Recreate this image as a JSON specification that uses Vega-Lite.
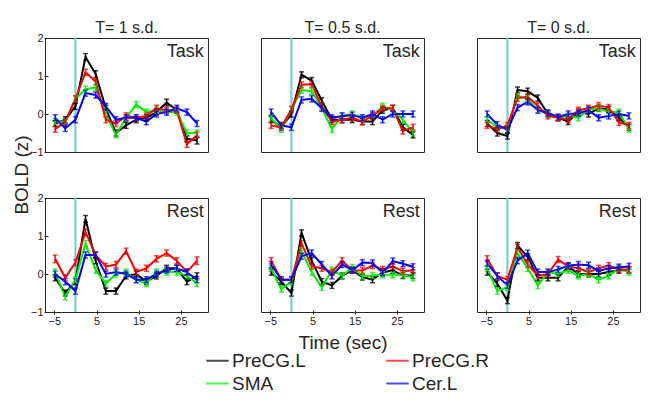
{
  "$schema": "https://vega.github.io/schema/vega-lite/v6.json",
  "background": "white",
  "padding": {"left": 12, "top": 20, "right": 5, "bottom": 5},
  "config": {
    "font": "Liberation Sans",
    "view": {"stroke": "#262626", "strokeWidth": 1},
    "axis": {"grid": false, "domain": false, "labelFontSize": 11, "labelColor": "#262626", "tickColor": "#262626", "tickSize": -4},
    "header": {"labelColor": "#262626", "titleColor": "#262626"}
  },
  "data": {
    "values": [
      {"T":1,"c":"Task","r":"PreCG.L","t":-4.8,"z":-0.25,"e":0.08},
      {"T":1,"c":"Task","r":"PreCG.L","t":-2.4,"z":-0.15,"e":0.08},
      {"T":1,"c":"Task","r":"PreCG.L","t":0,"z":0.2,"e":0.08},
      {"T":1,"c":"Task","r":"PreCG.L","t":2.4,"z":1.5,"e":0.09},
      {"T":1,"c":"Task","r":"PreCG.L","t":4.8,"z":1.05,"e":0.09},
      {"T":1,"c":"Task","r":"PreCG.L","t":7.2,"z":0.15,"e":0.08},
      {"T":1,"c":"Task","r":"PreCG.L","t":9.6,"z":-0.5,"e":0.08},
      {"T":1,"c":"Task","r":"PreCG.L","t":12,"z":-0.3,"e":0.08},
      {"T":1,"c":"Task","r":"PreCG.L","t":14.4,"z":-0.15,"e":0.08},
      {"T":1,"c":"Task","r":"PreCG.L","t":16.8,"z":-0.1,"e":0.08},
      {"T":1,"c":"Task","r":"PreCG.L","t":19.2,"z":0.05,"e":0.08},
      {"T":1,"c":"Task","r":"PreCG.L","t":21.6,"z":0.3,"e":0.09},
      {"T":1,"c":"Task","r":"PreCG.L","t":24,"z":0.1,"e":0.08},
      {"T":1,"c":"Task","r":"PreCG.L","t":26.4,"z":-0.65,"e":0.08},
      {"T":1,"c":"Task","r":"PreCG.L","t":28.8,"z":-0.7,"e":0.09},
      {"T":1,"c":"Task","r":"SMA","t":-4.8,"z":-0.2,"e":0.08},
      {"T":1,"c":"Task","r":"SMA","t":-2.4,"z":-0.2,"e":0.08},
      {"T":1,"c":"Task","r":"SMA","t":0,"z":0.4,"e":0.08},
      {"T":1,"c":"Task","r":"SMA","t":2.4,"z":0.65,"e":0.08},
      {"T":1,"c":"Task","r":"SMA","t":4.8,"z":0.7,"e":0.08},
      {"T":1,"c":"Task","r":"SMA","t":7.2,"z":0.0,"e":0.08},
      {"T":1,"c":"Task","r":"SMA","t":9.6,"z":-0.55,"e":0.08},
      {"T":1,"c":"Task","r":"SMA","t":12,"z":-0.1,"e":0.08},
      {"T":1,"c":"Task","r":"SMA","t":14.4,"z":0.25,"e":0.08},
      {"T":1,"c":"Task","r":"SMA","t":16.8,"z":0.05,"e":0.08},
      {"T":1,"c":"Task","r":"SMA","t":19.2,"z":0.1,"e":0.08},
      {"T":1,"c":"Task","r":"SMA","t":21.6,"z":0.05,"e":0.08},
      {"T":1,"c":"Task","r":"SMA","t":24,"z":0.05,"e":0.08},
      {"T":1,"c":"Task","r":"SMA","t":26.4,"z":-0.5,"e":0.08},
      {"T":1,"c":"Task","r":"SMA","t":28.8,"z":-0.5,"e":0.08},
      {"T":1,"c":"Task","r":"PreCG.R","t":-4.8,"z":-0.4,"e":0.08},
      {"T":1,"c":"Task","r":"PreCG.R","t":-2.4,"z":-0.2,"e":0.08},
      {"T":1,"c":"Task","r":"PreCG.R","t":0,"z":0.4,"e":0.08},
      {"T":1,"c":"Task","r":"PreCG.R","t":2.4,"z":1.1,"e":0.08},
      {"T":1,"c":"Task","r":"PreCG.R","t":4.8,"z":0.85,"e":0.08},
      {"T":1,"c":"Task","r":"PreCG.R","t":7.2,"z":-0.15,"e":0.08},
      {"T":1,"c":"Task","r":"PreCG.R","t":9.6,"z":-0.25,"e":0.08},
      {"T":1,"c":"Task","r":"PreCG.R","t":12,"z":-0.05,"e":0.08},
      {"T":1,"c":"Task","r":"PreCG.R","t":14.4,"z":-0.1,"e":0.08},
      {"T":1,"c":"Task","r":"PreCG.R","t":16.8,"z":-0.05,"e":0.08},
      {"T":1,"c":"Task","r":"PreCG.R","t":19.2,"z":0.15,"e":0.08},
      {"T":1,"c":"Task","r":"PreCG.R","t":21.6,"z":0.1,"e":0.08},
      {"T":1,"c":"Task","r":"PreCG.R","t":24,"z":0.1,"e":0.08},
      {"T":1,"c":"Task","r":"PreCG.R","t":26.4,"z":-0.8,"e":0.08},
      {"T":1,"c":"Task","r":"PreCG.R","t":28.8,"z":-0.55,"e":0.08},
      {"T":1,"c":"Task","r":"Cer.L","t":-4.8,"z":-0.1,"e":0.08},
      {"T":1,"c":"Task","r":"Cer.L","t":-2.4,"z":-0.38,"e":0.08},
      {"T":1,"c":"Task","r":"Cer.L","t":0,"z":-0.15,"e":0.08},
      {"T":1,"c":"Task","r":"Cer.L","t":2.4,"z":0.55,"e":0.08},
      {"T":1,"c":"Task","r":"Cer.L","t":4.8,"z":0.5,"e":0.08},
      {"T":1,"c":"Task","r":"Cer.L","t":7.2,"z":0.2,"e":0.08},
      {"T":1,"c":"Task","r":"Cer.L","t":9.6,"z":-0.15,"e":0.08},
      {"T":1,"c":"Task","r":"Cer.L","t":12,"z":-0.1,"e":0.08},
      {"T":1,"c":"Task","r":"Cer.L","t":14.4,"z":-0.1,"e":0.08},
      {"T":1,"c":"Task","r":"Cer.L","t":16.8,"z":-0.2,"e":0.08},
      {"T":1,"c":"Task","r":"Cer.L","t":19.2,"z":0.0,"e":0.08},
      {"T":1,"c":"Task","r":"Cer.L","t":21.6,"z":0.05,"e":0.08},
      {"T":1,"c":"Task","r":"Cer.L","t":24,"z":0.15,"e":0.08},
      {"T":1,"c":"Task","r":"Cer.L","t":26.4,"z":0.05,"e":0.08},
      {"T":1,"c":"Task","r":"Cer.L","t":28.8,"z":-0.25,"e":0.08},

      {"T":1,"c":"Rest","r":"PreCG.L","t":-4.8,"z":-0.1,"e":0.08},
      {"T":1,"c":"Rest","r":"PreCG.L","t":-2.4,"z":-0.5,"e":0.08},
      {"T":1,"c":"Rest","r":"PreCG.L","t":0,"z":-0.2,"e":0.08},
      {"T":1,"c":"Rest","r":"PreCG.L","t":2.4,"z":1.45,"e":0.09},
      {"T":1,"c":"Rest","r":"PreCG.L","t":4.8,"z":0.35,"e":0.08},
      {"T":1,"c":"Rest","r":"PreCG.L","t":7.2,"z":-0.45,"e":0.08},
      {"T":1,"c":"Rest","r":"PreCG.L","t":9.6,"z":-0.45,"e":0.08},
      {"T":1,"c":"Rest","r":"PreCG.L","t":12,"z":-0.05,"e":0.08},
      {"T":1,"c":"Rest","r":"PreCG.L","t":14.4,"z":0.0,"e":0.08},
      {"T":1,"c":"Rest","r":"PreCG.L","t":16.8,"z":-0.2,"e":0.08},
      {"T":1,"c":"Rest","r":"PreCG.L","t":19.2,"z":-0.05,"e":0.08},
      {"T":1,"c":"Rest","r":"PreCG.L","t":21.6,"z":0.15,"e":0.08},
      {"T":1,"c":"Rest","r":"PreCG.L","t":24,"z":0.15,"e":0.08},
      {"T":1,"c":"Rest","r":"PreCG.L","t":26.4,"z":-0.2,"e":0.08},
      {"T":1,"c":"Rest","r":"PreCG.L","t":28.8,"z":-0.05,"e":0.08},
      {"T":1,"c":"Rest","r":"SMA","t":-4.8,"z":0.05,"e":0.08},
      {"T":1,"c":"Rest","r":"SMA","t":-2.4,"z":-0.6,"e":0.08},
      {"T":1,"c":"Rest","r":"SMA","t":0,"z":-0.15,"e":0.08},
      {"T":1,"c":"Rest","r":"SMA","t":2.4,"z":0.8,"e":0.08},
      {"T":1,"c":"Rest","r":"SMA","t":4.8,"z":0.1,"e":0.08},
      {"T":1,"c":"Rest","r":"SMA","t":7.2,"z":-0.25,"e":0.08},
      {"T":1,"c":"Rest","r":"SMA","t":9.6,"z":0.0,"e":0.08},
      {"T":1,"c":"Rest","r":"SMA","t":12,"z":0.05,"e":0.08},
      {"T":1,"c":"Rest","r":"SMA","t":14.4,"z":-0.15,"e":0.08},
      {"T":1,"c":"Rest","r":"SMA","t":16.8,"z":-0.25,"e":0.08},
      {"T":1,"c":"Rest","r":"SMA","t":19.2,"z":0.05,"e":0.08},
      {"T":1,"c":"Rest","r":"SMA","t":21.6,"z":0.05,"e":0.08},
      {"T":1,"c":"Rest","r":"SMA","t":24,"z":0.05,"e":0.08},
      {"T":1,"c":"Rest","r":"SMA","t":26.4,"z":-0.05,"e":0.08},
      {"T":1,"c":"Rest","r":"SMA","t":28.8,"z":-0.25,"e":0.08},
      {"T":1,"c":"Rest","r":"PreCG.R","t":-4.8,"z":0.4,"e":0.1},
      {"T":1,"c":"Rest","r":"PreCG.R","t":-2.4,"z":-0.1,"e":0.08},
      {"T":1,"c":"Rest","r":"PreCG.R","t":0,"z":0.3,"e":0.08},
      {"T":1,"c":"Rest","r":"PreCG.R","t":2.4,"z":1.1,"e":0.09},
      {"T":1,"c":"Rest","r":"PreCG.R","t":4.8,"z":0.5,"e":0.08},
      {"T":1,"c":"Rest","r":"PreCG.R","t":7.2,"z":0.2,"e":0.08},
      {"T":1,"c":"Rest","r":"PreCG.R","t":9.6,"z":0.25,"e":0.08},
      {"T":1,"c":"Rest","r":"PreCG.R","t":12,"z":0.6,"e":0.08},
      {"T":1,"c":"Rest","r":"PreCG.R","t":14.4,"z":0.05,"e":0.08},
      {"T":1,"c":"Rest","r":"PreCG.R","t":16.8,"z":0.15,"e":0.08},
      {"T":1,"c":"Rest","r":"PreCG.R","t":19.2,"z":0.4,"e":0.08},
      {"T":1,"c":"Rest","r":"PreCG.R","t":21.6,"z":0.55,"e":0.08},
      {"T":1,"c":"Rest","r":"PreCG.R","t":24,"z":0.35,"e":0.08},
      {"T":1,"c":"Rest","r":"PreCG.R","t":26.4,"z":0.05,"e":0.08},
      {"T":1,"c":"Rest","r":"PreCG.R","t":28.8,"z":0.35,"e":0.1},
      {"T":1,"c":"Rest","r":"Cer.L","t":-4.8,"z":0.0,"e":0.08},
      {"T":1,"c":"Rest","r":"Cer.L","t":-2.4,"z":-0.2,"e":0.08},
      {"T":1,"c":"Rest","r":"Cer.L","t":0,"z":-0.45,"e":0.08},
      {"T":1,"c":"Rest","r":"Cer.L","t":2.4,"z":0.5,"e":0.08},
      {"T":1,"c":"Rest","r":"Cer.L","t":4.8,"z":0.5,"e":0.08},
      {"T":1,"c":"Rest","r":"Cer.L","t":7.2,"z":0.0,"e":0.08},
      {"T":1,"c":"Rest","r":"Cer.L","t":9.6,"z":0.05,"e":0.08},
      {"T":1,"c":"Rest","r":"Cer.L","t":12,"z":0.0,"e":0.08},
      {"T":1,"c":"Rest","r":"Cer.L","t":14.4,"z":-0.15,"e":0.08},
      {"T":1,"c":"Rest","r":"Cer.L","t":16.8,"z":-0.15,"e":0.08},
      {"T":1,"c":"Rest","r":"Cer.L","t":19.2,"z":0.0,"e":0.08},
      {"T":1,"c":"Rest","r":"Cer.L","t":21.6,"z":0.1,"e":0.08},
      {"T":1,"c":"Rest","r":"Cer.L","t":24,"z":0.15,"e":0.08},
      {"T":1,"c":"Rest","r":"Cer.L","t":26.4,"z":0.05,"e":0.08},
      {"T":1,"c":"Rest","r":"Cer.L","t":28.8,"z":-0.15,"e":0.08},

      {"T":0.5,"c":"Task","r":"PreCG.L","t":-4.8,"z":-0.15,"e":0.08},
      {"T":0.5,"c":"Task","r":"PreCG.L","t":-2.4,"z":-0.35,"e":0.08},
      {"T":0.5,"c":"Task","r":"PreCG.L","t":0,"z":0.0,"e":0.08},
      {"T":0.5,"c":"Task","r":"PreCG.L","t":2.4,"z":1.03,"e":0.08},
      {"T":0.5,"c":"Task","r":"PreCG.L","t":4.8,"z":0.88,"e":0.08},
      {"T":0.5,"c":"Task","r":"PreCG.L","t":7.2,"z":0.35,"e":0.08},
      {"T":0.5,"c":"Task","r":"PreCG.L","t":9.6,"z":-0.15,"e":0.08},
      {"T":0.5,"c":"Task","r":"PreCG.L","t":12,"z":-0.15,"e":0.08},
      {"T":0.5,"c":"Task","r":"PreCG.L","t":14.4,"z":-0.15,"e":0.08},
      {"T":0.5,"c":"Task","r":"PreCG.L","t":16.8,"z":-0.2,"e":0.08},
      {"T":0.5,"c":"Task","r":"PreCG.L","t":19.2,"z":-0.2,"e":0.08},
      {"T":0.5,"c":"Task","r":"PreCG.L","t":21.6,"z":0.1,"e":0.08},
      {"T":0.5,"c":"Task","r":"PreCG.L","t":24,"z":0.15,"e":0.08},
      {"T":0.5,"c":"Task","r":"PreCG.L","t":26.4,"z":-0.35,"e":0.08},
      {"T":0.5,"c":"Task","r":"PreCG.L","t":28.8,"z":-0.55,"e":0.08},
      {"T":0.5,"c":"Task","r":"SMA","t":-4.8,"z":-0.1,"e":0.08},
      {"T":0.5,"c":"Task","r":"SMA","t":-2.4,"z":-0.4,"e":0.08},
      {"T":0.5,"c":"Task","r":"SMA","t":0,"z":0.12,"e":0.08},
      {"T":0.5,"c":"Task","r":"SMA","t":2.4,"z":0.63,"e":0.08},
      {"T":0.5,"c":"Task","r":"SMA","t":4.8,"z":0.6,"e":0.08},
      {"T":0.5,"c":"Task","r":"SMA","t":7.2,"z":0.15,"e":0.08},
      {"T":0.5,"c":"Task","r":"SMA","t":9.6,"z":-0.4,"e":0.08},
      {"T":0.5,"c":"Task","r":"SMA","t":12,"z":-0.05,"e":0.08},
      {"T":0.5,"c":"Task","r":"SMA","t":14.4,"z":0.0,"e":0.08},
      {"T":0.5,"c":"Task","r":"SMA","t":16.8,"z":-0.1,"e":0.08},
      {"T":0.5,"c":"Task","r":"SMA","t":19.2,"z":-0.05,"e":0.08},
      {"T":0.5,"c":"Task","r":"SMA","t":21.6,"z":0.2,"e":0.08},
      {"T":0.5,"c":"Task","r":"SMA","t":24,"z":0.1,"e":0.08},
      {"T":0.5,"c":"Task","r":"SMA","t":26.4,"z":-0.15,"e":0.08},
      {"T":0.5,"c":"Task","r":"SMA","t":28.8,"z":-0.5,"e":0.08},
      {"T":0.5,"c":"Task","r":"PreCG.R","t":-4.8,"z":-0.3,"e":0.08},
      {"T":0.5,"c":"Task","r":"PreCG.R","t":-2.4,"z":-0.35,"e":0.08},
      {"T":0.5,"c":"Task","r":"PreCG.R","t":0,"z":0.12,"e":0.08},
      {"T":0.5,"c":"Task","r":"PreCG.R","t":2.4,"z":0.77,"e":0.08},
      {"T":0.5,"c":"Task","r":"PreCG.R","t":4.8,"z":0.78,"e":0.08},
      {"T":0.5,"c":"Task","r":"PreCG.R","t":7.2,"z":0.2,"e":0.08},
      {"T":0.5,"c":"Task","r":"PreCG.R","t":9.6,"z":-0.2,"e":0.08},
      {"T":0.5,"c":"Task","r":"PreCG.R","t":12,"z":-0.15,"e":0.08},
      {"T":0.5,"c":"Task","r":"PreCG.R","t":14.4,"z":-0.1,"e":0.08},
      {"T":0.5,"c":"Task","r":"PreCG.R","t":16.8,"z":-0.2,"e":0.08},
      {"T":0.5,"c":"Task","r":"PreCG.R","t":19.2,"z":-0.05,"e":0.08},
      {"T":0.5,"c":"Task","r":"PreCG.R","t":21.6,"z":0.15,"e":0.08},
      {"T":0.5,"c":"Task","r":"PreCG.R","t":24,"z":0.15,"e":0.08},
      {"T":0.5,"c":"Task","r":"PreCG.R","t":26.4,"z":-0.45,"e":0.08},
      {"T":0.5,"c":"Task","r":"PreCG.R","t":28.8,"z":-0.35,"e":0.08},
      {"T":0.5,"c":"Task","r":"Cer.L","t":-4.8,"z":0.05,"e":0.08},
      {"T":0.5,"c":"Task","r":"Cer.L","t":-2.4,"z":-0.3,"e":0.08},
      {"T":0.5,"c":"Task","r":"Cer.L","t":0,"z":-0.35,"e":0.08},
      {"T":0.5,"c":"Task","r":"Cer.L","t":2.4,"z":0.37,"e":0.08},
      {"T":0.5,"c":"Task","r":"Cer.L","t":4.8,"z":0.4,"e":0.08},
      {"T":0.5,"c":"Task","r":"Cer.L","t":7.2,"z":0.15,"e":0.08},
      {"T":0.5,"c":"Task","r":"Cer.L","t":9.6,"z":-0.1,"e":0.08},
      {"T":0.5,"c":"Task","r":"Cer.L","t":12,"z":-0.05,"e":0.08},
      {"T":0.5,"c":"Task","r":"Cer.L","t":14.4,"z":-0.03,"e":0.08},
      {"T":0.5,"c":"Task","r":"Cer.L","t":16.8,"z":-0.1,"e":0.08},
      {"T":0.5,"c":"Task","r":"Cer.L","t":19.2,"z":0.0,"e":0.08},
      {"T":0.5,"c":"Task","r":"Cer.L","t":21.6,"z":-0.15,"e":0.08},
      {"T":0.5,"c":"Task","r":"Cer.L","t":24,"z":0.0,"e":0.08},
      {"T":0.5,"c":"Task","r":"Cer.L","t":26.4,"z":0.0,"e":0.08},
      {"T":0.5,"c":"Task","r":"Cer.L","t":28.8,"z":0.0,"e":0.08},

      {"T":0.5,"c":"Rest","r":"PreCG.L","t":-4.8,"z":0.05,"e":0.08},
      {"T":0.5,"c":"Rest","r":"PreCG.L","t":-2.4,"z":-0.2,"e":0.08},
      {"T":0.5,"c":"Rest","r":"PreCG.L","t":0,"z":-0.5,"e":0.08},
      {"T":0.5,"c":"Rest","r":"PreCG.L","t":2.4,"z":1.08,"e":0.08},
      {"T":0.5,"c":"Rest","r":"PreCG.L","t":4.8,"z":0.35,"e":0.08},
      {"T":0.5,"c":"Rest","r":"PreCG.L","t":7.2,"z":-0.2,"e":0.08},
      {"T":0.5,"c":"Rest","r":"PreCG.L","t":9.6,"z":-0.3,"e":0.08},
      {"T":0.5,"c":"Rest","r":"PreCG.L","t":12,"z":-0.05,"e":0.08},
      {"T":0.5,"c":"Rest","r":"PreCG.L","t":14.4,"z":0.1,"e":0.08},
      {"T":0.5,"c":"Rest","r":"PreCG.L","t":16.8,"z":-0.08,"e":0.08},
      {"T":0.5,"c":"Rest","r":"PreCG.L","t":19.2,"z":-0.15,"e":0.08},
      {"T":0.5,"c":"Rest","r":"PreCG.L","t":21.6,"z":0.04,"e":0.08},
      {"T":0.5,"c":"Rest","r":"PreCG.L","t":24,"z":0.1,"e":0.08},
      {"T":0.5,"c":"Rest","r":"PreCG.L","t":26.4,"z":-0.04,"e":0.08},
      {"T":0.5,"c":"Rest","r":"PreCG.L","t":28.8,"z":-0.04,"e":0.08},
      {"T":0.5,"c":"Rest","r":"SMA","t":-4.8,"z":0.15,"e":0.08},
      {"T":0.5,"c":"Rest","r":"SMA","t":-2.4,"z":-0.4,"e":0.08},
      {"T":0.5,"c":"Rest","r":"SMA","t":0,"z":-0.2,"e":0.08},
      {"T":0.5,"c":"Rest","r":"SMA","t":2.4,"z":0.6,"e":0.08},
      {"T":0.5,"c":"Rest","r":"SMA","t":4.8,"z":0.05,"e":0.08},
      {"T":0.5,"c":"Rest","r":"SMA","t":7.2,"z":-0.35,"e":0.08},
      {"T":0.5,"c":"Rest","r":"SMA","t":9.6,"z":0.1,"e":0.08},
      {"T":0.5,"c":"Rest","r":"SMA","t":12,"z":-0.05,"e":0.08},
      {"T":0.5,"c":"Rest","r":"SMA","t":14.4,"z":0.17,"e":0.08},
      {"T":0.5,"c":"Rest","r":"SMA","t":16.8,"z":-0.06,"e":0.08},
      {"T":0.5,"c":"Rest","r":"SMA","t":19.2,"z":-0.04,"e":0.08},
      {"T":0.5,"c":"Rest","r":"SMA","t":21.6,"z":-0.02,"e":0.08},
      {"T":0.5,"c":"Rest","r":"SMA","t":24,"z":-0.02,"e":0.08},
      {"T":0.5,"c":"Rest","r":"SMA","t":26.4,"z":-0.02,"e":0.08},
      {"T":0.5,"c":"Rest","r":"SMA","t":28.8,"z":-0.1,"e":0.08},
      {"T":0.5,"c":"Rest","r":"PreCG.R","t":-4.8,"z":0.35,"e":0.08},
      {"T":0.5,"c":"Rest","r":"PreCG.R","t":-2.4,"z":-0.15,"e":0.08},
      {"T":0.5,"c":"Rest","r":"PreCG.R","t":0,"z":-0.15,"e":0.08},
      {"T":0.5,"c":"Rest","r":"PreCG.R","t":2.4,"z":0.8,"e":0.08},
      {"T":0.5,"c":"Rest","r":"PreCG.R","t":4.8,"z":0.2,"e":0.08},
      {"T":0.5,"c":"Rest","r":"PreCG.R","t":7.2,"z":0.15,"e":0.08},
      {"T":0.5,"c":"Rest","r":"PreCG.R","t":9.6,"z":0.05,"e":0.08},
      {"T":0.5,"c":"Rest","r":"PreCG.R","t":12,"z":0.35,"e":0.08},
      {"T":0.5,"c":"Rest","r":"PreCG.R","t":14.4,"z":0.1,"e":0.08},
      {"T":0.5,"c":"Rest","r":"PreCG.R","t":16.8,"z":0.09,"e":0.08},
      {"T":0.5,"c":"Rest","r":"PreCG.R","t":19.2,"z":0.22,"e":0.08},
      {"T":0.5,"c":"Rest","r":"PreCG.R","t":21.6,"z":0.12,"e":0.08},
      {"T":0.5,"c":"Rest","r":"PreCG.R","t":24,"z":0.2,"e":0.08},
      {"T":0.5,"c":"Rest","r":"PreCG.R","t":26.4,"z":0.07,"e":0.08},
      {"T":0.5,"c":"Rest","r":"PreCG.R","t":28.8,"z":0.1,"e":0.08},
      {"T":0.5,"c":"Rest","r":"Cer.L","t":-4.8,"z":0.25,"e":0.08},
      {"T":0.5,"c":"Rest","r":"Cer.L","t":-2.4,"z":-0.15,"e":0.08},
      {"T":0.5,"c":"Rest","r":"Cer.L","t":0,"z":-0.15,"e":0.08},
      {"T":0.5,"c":"Rest","r":"Cer.L","t":2.4,"z":0.47,"e":0.08},
      {"T":0.5,"c":"Rest","r":"Cer.L","t":4.8,"z":0.55,"e":0.08},
      {"T":0.5,"c":"Rest","r":"Cer.L","t":7.2,"z":0.25,"e":0.08},
      {"T":0.5,"c":"Rest","r":"Cer.L","t":9.6,"z":-0.05,"e":0.08},
      {"T":0.5,"c":"Rest","r":"Cer.L","t":12,"z":0.25,"e":0.08},
      {"T":0.5,"c":"Rest","r":"Cer.L","t":14.4,"z":0.1,"e":0.08},
      {"T":0.5,"c":"Rest","r":"Cer.L","t":16.8,"z":0.3,"e":0.08},
      {"T":0.5,"c":"Rest","r":"Cer.L","t":19.2,"z":0.29,"e":0.08},
      {"T":0.5,"c":"Rest","r":"Cer.L","t":21.6,"z":0.03,"e":0.08},
      {"T":0.5,"c":"Rest","r":"Cer.L","t":24,"z":0.34,"e":0.08},
      {"T":0.5,"c":"Rest","r":"Cer.L","t":26.4,"z":0.27,"e":0.08},
      {"T":0.5,"c":"Rest","r":"Cer.L","t":28.8,"z":0.19,"e":0.08},

      {"T":0,"c":"Task","r":"PreCG.L","t":-4.8,"z":-0.25,"e":0.08},
      {"T":0,"c":"Task","r":"PreCG.L","t":-2.4,"z":-0.5,"e":0.08},
      {"T":0,"c":"Task","r":"PreCG.L","t":0,"z":-0.58,"e":0.08},
      {"T":0,"c":"Task","r":"PreCG.L","t":2.4,"z":0.63,"e":0.08},
      {"T":0,"c":"Task","r":"PreCG.L","t":4.8,"z":0.6,"e":0.08},
      {"T":0,"c":"Task","r":"PreCG.L","t":7.2,"z":0.42,"e":0.08},
      {"T":0,"c":"Task","r":"PreCG.L","t":9.6,"z":0.0,"e":0.08},
      {"T":0,"c":"Task","r":"PreCG.L","t":12,"z":-0.1,"e":0.08},
      {"T":0,"c":"Task","r":"PreCG.L","t":14.4,"z":-0.2,"e":0.08},
      {"T":0,"c":"Task","r":"PreCG.L","t":16.8,"z":0.05,"e":0.08},
      {"T":0,"c":"Task","r":"PreCG.L","t":19.2,"z":0.0,"e":0.08},
      {"T":0,"c":"Task","r":"PreCG.L","t":21.6,"z":0.15,"e":0.08},
      {"T":0,"c":"Task","r":"PreCG.L","t":24,"z":0.12,"e":0.08},
      {"T":0,"c":"Task","r":"PreCG.L","t":26.4,"z":-0.1,"e":0.08},
      {"T":0,"c":"Task","r":"PreCG.L","t":28.8,"z":-0.35,"e":0.08},
      {"T":0,"c":"Task","r":"SMA","t":-4.8,"z":-0.15,"e":0.08},
      {"T":0,"c":"Task","r":"SMA","t":-2.4,"z":-0.35,"e":0.08},
      {"T":0,"c":"Task","r":"SMA","t":0,"z":-0.35,"e":0.08},
      {"T":0,"c":"Task","r":"SMA","t":2.4,"z":0.47,"e":0.08},
      {"T":0,"c":"Task","r":"SMA","t":4.8,"z":0.4,"e":0.08},
      {"T":0,"c":"Task","r":"SMA","t":7.2,"z":0.1,"e":0.08},
      {"T":0,"c":"Task","r":"SMA","t":9.6,"z":0.0,"e":0.08},
      {"T":0,"c":"Task","r":"SMA","t":12,"z":-0.1,"e":0.08},
      {"T":0,"c":"Task","r":"SMA","t":14.4,"z":-0.05,"e":0.08},
      {"T":0,"c":"Task","r":"SMA","t":16.8,"z":-0.1,"e":0.08},
      {"T":0,"c":"Task","r":"SMA","t":19.2,"z":0.12,"e":0.08},
      {"T":0,"c":"Task","r":"SMA","t":21.6,"z":0.15,"e":0.08},
      {"T":0,"c":"Task","r":"SMA","t":24,"z":0.05,"e":0.08},
      {"T":0,"c":"Task","r":"SMA","t":26.4,"z":0.05,"e":0.08},
      {"T":0,"c":"Task","r":"SMA","t":28.8,"z":-0.4,"e":0.08},
      {"T":0,"c":"Task","r":"PreCG.R","t":-4.8,"z":-0.3,"e":0.08},
      {"T":0,"c":"Task","r":"PreCG.R","t":-2.4,"z":-0.4,"e":0.08},
      {"T":0,"c":"Task","r":"PreCG.R","t":0,"z":-0.3,"e":0.08},
      {"T":0,"c":"Task","r":"PreCG.R","t":2.4,"z":0.42,"e":0.08},
      {"T":0,"c":"Task","r":"PreCG.R","t":4.8,"z":0.45,"e":0.08},
      {"T":0,"c":"Task","r":"PreCG.R","t":7.2,"z":0.22,"e":0.08},
      {"T":0,"c":"Task","r":"PreCG.R","t":9.6,"z":-0.05,"e":0.08},
      {"T":0,"c":"Task","r":"PreCG.R","t":12,"z":-0.1,"e":0.08},
      {"T":0,"c":"Task","r":"PreCG.R","t":14.4,"z":-0.15,"e":0.08},
      {"T":0,"c":"Task","r":"PreCG.R","t":16.8,"z":0.1,"e":0.08},
      {"T":0,"c":"Task","r":"PreCG.R","t":19.2,"z":0.15,"e":0.08},
      {"T":0,"c":"Task","r":"PreCG.R","t":21.6,"z":0.22,"e":0.08},
      {"T":0,"c":"Task","r":"PreCG.R","t":24,"z":0.17,"e":0.08},
      {"T":0,"c":"Task","r":"PreCG.R","t":26.4,"z":-0.22,"e":0.08},
      {"T":0,"c":"Task","r":"PreCG.R","t":28.8,"z":-0.3,"e":0.08},
      {"T":0,"c":"Task","r":"Cer.L","t":-4.8,"z":0.0,"e":0.08},
      {"T":0,"c":"Task","r":"Cer.L","t":-2.4,"z":-0.28,"e":0.08},
      {"T":0,"c":"Task","r":"Cer.L","t":0,"z":-0.42,"e":0.08},
      {"T":0,"c":"Task","r":"Cer.L","t":2.4,"z":0.17,"e":0.08},
      {"T":0,"c":"Task","r":"Cer.L","t":4.8,"z":0.32,"e":0.08},
      {"T":0,"c":"Task","r":"Cer.L","t":7.2,"z":0.1,"e":0.08},
      {"T":0,"c":"Task","r":"Cer.L","t":9.6,"z":0.03,"e":0.08},
      {"T":0,"c":"Task","r":"Cer.L","t":12,"z":-0.08,"e":0.08},
      {"T":0,"c":"Task","r":"Cer.L","t":14.4,"z":0.0,"e":0.08},
      {"T":0,"c":"Task","r":"Cer.L","t":16.8,"z":0.02,"e":0.08},
      {"T":0,"c":"Task","r":"Cer.L","t":19.2,"z":0.1,"e":0.08},
      {"T":0,"c":"Task","r":"Cer.L","t":21.6,"z":-0.1,"e":0.08},
      {"T":0,"c":"Task","r":"Cer.L","t":24,"z":-0.05,"e":0.08},
      {"T":0,"c":"Task","r":"Cer.L","t":26.4,"z":0.0,"e":0.08},
      {"T":0,"c":"Task","r":"Cer.L","t":28.8,"z":-0.05,"e":0.08},

      {"T":0,"c":"Rest","r":"PreCG.L","t":-4.8,"z":0.05,"e":0.08},
      {"T":0,"c":"Rest","r":"PreCG.L","t":-2.4,"z":-0.25,"e":0.08},
      {"T":0,"c":"Rest","r":"PreCG.L","t":0,"z":-0.7,"e":0.08},
      {"T":0,"c":"Rest","r":"PreCG.L","t":2.4,"z":0.75,"e":0.08},
      {"T":0,"c":"Rest","r":"PreCG.L","t":4.8,"z":0.45,"e":0.08},
      {"T":0,"c":"Rest","r":"PreCG.L","t":7.2,"z":-0.1,"e":0.08},
      {"T":0,"c":"Rest","r":"PreCG.L","t":9.6,"z":-0.1,"e":0.08},
      {"T":0,"c":"Rest","r":"PreCG.L","t":12,"z":-0.1,"e":0.08},
      {"T":0,"c":"Rest","r":"PreCG.L","t":14.4,"z":0.2,"e":0.08},
      {"T":0,"c":"Rest","r":"PreCG.L","t":16.8,"z":0.0,"e":0.08},
      {"T":0,"c":"Rest","r":"PreCG.L","t":19.2,"z":0.0,"e":0.08},
      {"T":0,"c":"Rest","r":"PreCG.L","t":21.6,"z":0.0,"e":0.08},
      {"T":0,"c":"Rest","r":"PreCG.L","t":24,"z":0.05,"e":0.08},
      {"T":0,"c":"Rest","r":"PreCG.L","t":26.4,"z":0.1,"e":0.08},
      {"T":0,"c":"Rest","r":"PreCG.L","t":28.8,"z":0.1,"e":0.08},
      {"T":0,"c":"Rest","r":"SMA","t":-4.8,"z":0.15,"e":0.08},
      {"T":0,"c":"Rest","r":"SMA","t":-2.4,"z":-0.45,"e":0.08},
      {"T":0,"c":"Rest","r":"SMA","t":0,"z":-0.35,"e":0.08},
      {"T":0,"c":"Rest","r":"SMA","t":2.4,"z":0.55,"e":0.08},
      {"T":0,"c":"Rest","r":"SMA","t":4.8,"z":0.15,"e":0.08},
      {"T":0,"c":"Rest","r":"SMA","t":7.2,"z":-0.3,"e":0.08},
      {"T":0,"c":"Rest","r":"SMA","t":9.6,"z":0.05,"e":0.08},
      {"T":0,"c":"Rest","r":"SMA","t":12,"z":0.0,"e":0.08},
      {"T":0,"c":"Rest","r":"SMA","t":14.4,"z":0.1,"e":0.08},
      {"T":0,"c":"Rest","r":"SMA","t":16.8,"z":-0.05,"e":0.08},
      {"T":0,"c":"Rest","r":"SMA","t":19.2,"z":0.0,"e":0.08},
      {"T":0,"c":"Rest","r":"SMA","t":21.6,"z":-0.15,"e":0.08},
      {"T":0,"c":"Rest","r":"SMA","t":24,"z":-0.05,"e":0.08},
      {"T":0,"c":"Rest","r":"SMA","t":26.4,"z":0.15,"e":0.08},
      {"T":0,"c":"Rest","r":"SMA","t":28.8,"z":0.05,"e":0.08},
      {"T":0,"c":"Rest","r":"PreCG.R","t":-4.8,"z":0.4,"e":0.08},
      {"T":0,"c":"Rest","r":"PreCG.R","t":-2.4,"z":-0.05,"e":0.08},
      {"T":0,"c":"Rest","r":"PreCG.R","t":0,"z":-0.15,"e":0.08},
      {"T":0,"c":"Rest","r":"PreCG.R","t":2.4,"z":0.7,"e":0.08},
      {"T":0,"c":"Rest","r":"PreCG.R","t":4.8,"z":0.25,"e":0.08},
      {"T":0,"c":"Rest","r":"PreCG.R","t":7.2,"z":-0.05,"e":0.08},
      {"T":0,"c":"Rest","r":"PreCG.R","t":9.6,"z":0.0,"e":0.08},
      {"T":0,"c":"Rest","r":"PreCG.R","t":12,"z":0.38,"e":0.08},
      {"T":0,"c":"Rest","r":"PreCG.R","t":14.4,"z":0.2,"e":0.08},
      {"T":0,"c":"Rest","r":"PreCG.R","t":16.8,"z":0.15,"e":0.08},
      {"T":0,"c":"Rest","r":"PreCG.R","t":19.2,"z":0.05,"e":0.08},
      {"T":0,"c":"Rest","r":"PreCG.R","t":21.6,"z":0.15,"e":0.08},
      {"T":0,"c":"Rest","r":"PreCG.R","t":24,"z":0.22,"e":0.08},
      {"T":0,"c":"Rest","r":"PreCG.R","t":26.4,"z":0.12,"e":0.08},
      {"T":0,"c":"Rest","r":"PreCG.R","t":28.8,"z":0.12,"e":0.08},
      {"T":0,"c":"Rest","r":"Cer.L","t":-4.8,"z":0.28,"e":0.08},
      {"T":0,"c":"Rest","r":"Cer.L","t":-2.4,"z":-0.05,"e":0.08},
      {"T":0,"c":"Rest","r":"Cer.L","t":0,"z":-0.3,"e":0.08},
      {"T":0,"c":"Rest","r":"Cer.L","t":2.4,"z":0.35,"e":0.08},
      {"T":0,"c":"Rest","r":"Cer.L","t":4.8,"z":0.55,"e":0.08},
      {"T":0,"c":"Rest","r":"Cer.L","t":7.2,"z":0.05,"e":0.08},
      {"T":0,"c":"Rest","r":"Cer.L","t":9.6,"z":0.05,"e":0.08},
      {"T":0,"c":"Rest","r":"Cer.L","t":12,"z":0.12,"e":0.08},
      {"T":0,"c":"Rest","r":"Cer.L","t":14.4,"z":0.22,"e":0.08},
      {"T":0,"c":"Rest","r":"Cer.L","t":16.8,"z":0.25,"e":0.08},
      {"T":0,"c":"Rest","r":"Cer.L","t":19.2,"z":0.23,"e":0.08},
      {"T":0,"c":"Rest","r":"Cer.L","t":21.6,"z":0.08,"e":0.08},
      {"T":0,"c":"Rest","r":"Cer.L","t":24,"z":0.15,"e":0.08},
      {"T":0,"c":"Rest","r":"Cer.L","t":26.4,"z":0.18,"e":0.08},
      {"T":0,"c":"Rest","r":"Cer.L","t":28.8,"z":0.2,"e":0.08}
    ]
  },
  "facet": {
    "row": {
      "field": "c", "type": "nominal", "sort": ["Task", "Rest"],
      "header": {"labels": false, "title": "BOLD (z)", "titleOrient": "left", "titleFontSize": 19, "titleFontWeight": "normal", "titlePadding": -12}
    },
    "column": {
      "field": "T", "type": "ordinal", "sort": "descending",
      "header": {"labelExpr": "'T= ' + datum.value + ' s.d.'", "labelOrient": "top", "labelFontSize": 16, "labelPadding": 0,
                 "title": "Time (sec)", "titleOrient": "bottom", "titleFontSize": 19, "titleFontWeight": "normal", "titlePadding": -2}
    }
  },
  "spacing": {"row": 42, "column": 51},
  "spec": {
    "width": 163,
    "height": 114,
    "encoding": {
      "x": {"field": "t", "type": "quantitative", "scale": {"domain": [-7.2, 31.4], "nice": false, "zero": false},
            "axis": {"values": [-5, 5, 15, 25], "labelPadding": 5, "title": null}},
      "y": {"field": "z", "type": "quantitative", "scale": {"domain": [-1, 2], "nice": false},
            "axis": {"values": [-1, 0, 1, 2], "labelPadding": 5, "minExtent": 0, "title": null}},
      "color": {"field": "r", "type": "nominal",
                "scale": {"domain": ["PreCG.L", "SMA", "PreCG.R", "Cer.L"], "range": ["#000000", "#00ee00", "#ff0000", "#0000ff"]},
                "legend": {"title": null, "orient": "none", "legendX": 160, "legendY": 310, "columns": 2, "symbolType": "stroke", "symbolStrokeWidth": 2, "symbolSize": 500,
                           "labelFontSize": 19, "labelColor": "#262626", "columnPadding": 76, "rowPadding": 0, "labelOffset": 2}}
    },
    "layer": [
      {
        "transform": [{"filter": "datum.t == 0 && datum.r == 'PreCG.L'"}],
        "mark": {"type": "rule", "color": "#6ccbd4", "strokeWidth": 2},
        "encoding": {"x": {"datum": 0, "type": "quantitative"}, "y": null, "color": null}
      },
      {"mark": {"type": "line", "strokeWidth": 2}},
      {"mark": {"type": "errorbar", "ticks": {"size": 5}, "thickness": 1.5}, "encoding": {"yError": {"field": "e"}}},
      {
        "transform": [{"filter": "datum.t == 0 && datum.r == 'PreCG.L'"}],
        "mark": {"type": "text", "align": "right", "baseline": "middle", "fontSize": 18, "color": "#262626"},
        "encoding": {"x": {"datum": 30.4, "type": "quantitative"}, "y": {"datum": 1.62, "type": "quantitative"}, "text": {"field": "c"}, "color": null}
      }
    ]
  }
}
